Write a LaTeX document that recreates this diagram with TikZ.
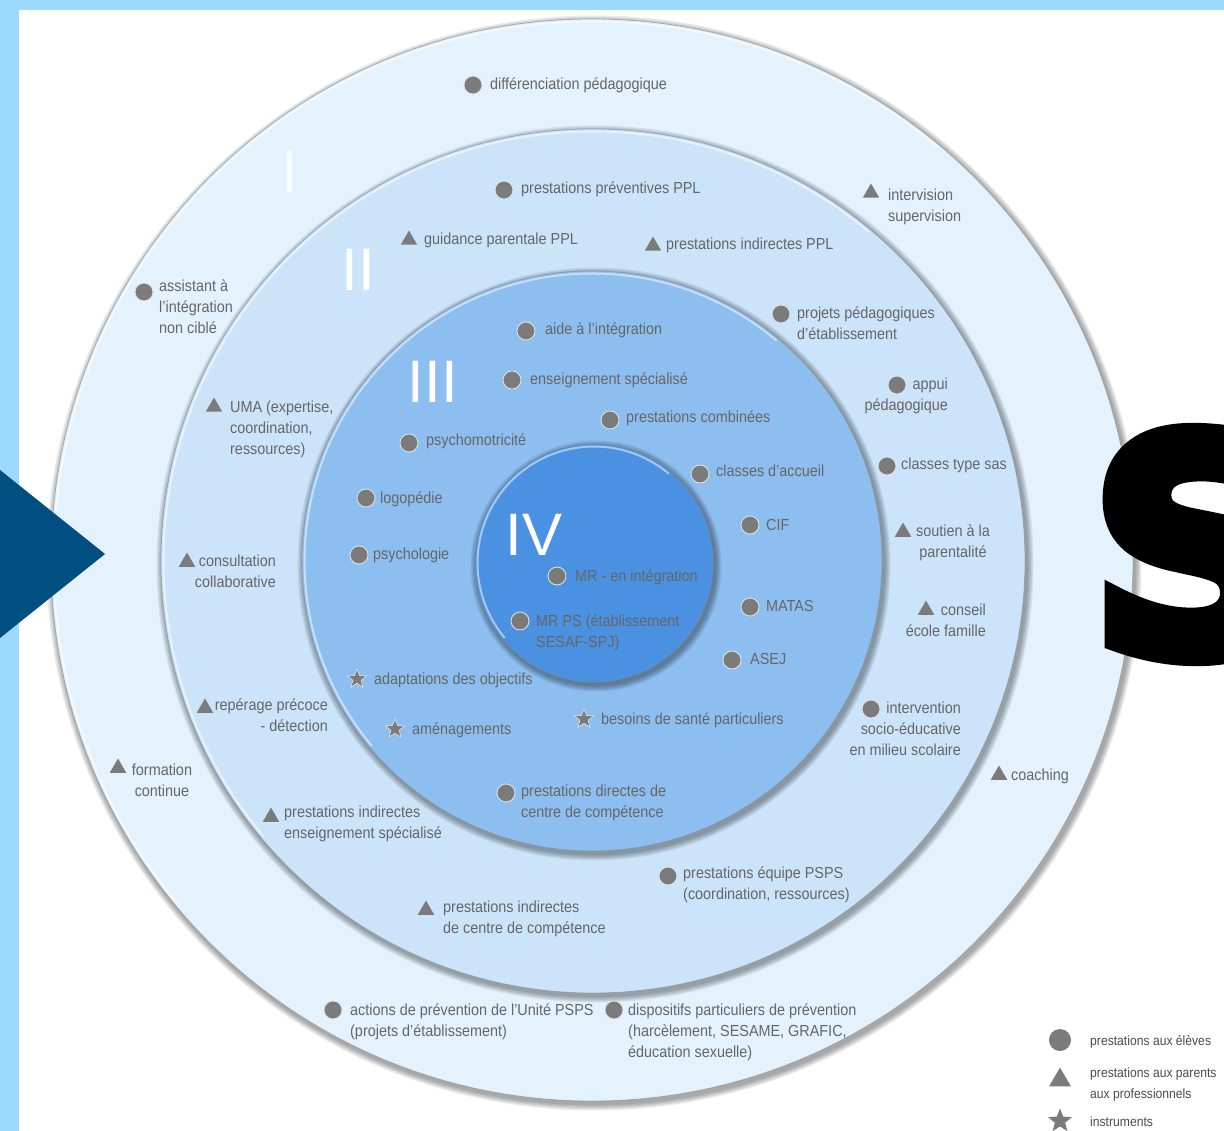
\documentclass[tikz,border=0pt]{standalone}
\usepackage{fontspec}
\setmainfont{Liberation Sans}[FakeStretch=0.9]
\newfontfamily\numfont{Liberation Sans}
\newfontfamily\bigSfont{DejaVu Sans}[BoldFont={DejaVu Sans Bold}, BoldFeatures={FakeBold=6}]
\usetikzlibrary{shapes.geometric}
\definecolor{frameblue}{HTML}{9CD9FC}
\definecolor{arrowblue}{HTML}{004F80}
\definecolor{ringI}{HTML}{E3F2FD}
\definecolor{ringII}{HTML}{CCE4FA}
\definecolor{ringIII}{HTML}{8DBEF0}
\definecolor{ringIV}{HTML}{4A91E2}
\definecolor{mkgray}{HTML}{7B7B7B}
\definecolor{txtgray}{HTML}{666666}
\tikzset{
 dotmk/.style={circle, fill=mkgray, draw=white!80!gray, line width=0.8pt, minimum size=18pt, inner sep=0pt},
 trimk/.style={regular polygon, regular polygon sides=3, fill=mkgray, minimum size=19pt, inner sep=0pt},
 starmk/.style={star, star points=5, star point ratio=2.3, fill=mkgray, draw=white!80!gray, line width=0.6pt, minimum size=20pt, inner sep=0pt},
 lbl/.style={text=txtgray, inner sep=0pt, font=\fontsize{16}{21}\selectfont},
 lgd/.style={text=txtgray!75!black, inner sep=0pt, font=\fontsize{13.5}{21}\selectfont},
 numeral/.style={text=white, inner sep=0pt, font=\numfont\fontsize{60}{60}\selectfont},
}
\newcommand\ringdraw[4]{%
 \foreach \k in {1,2,3,4,5} {\fill[black,opacity=0.08] ({#1+2},{#2+3}) circle[radius={(#3+\k*1.3)*1pt}];}
 \fill[#4] (#1,#2) circle[radius=#3 pt];
 \draw[black!45, opacity=0.6, line width=0.8pt] (#1,#2) circle[radius=#3 pt];
 \draw[white, opacity=0.5, line width=2pt] (#1,#2) ++(50:{(#3-2.5)*1pt}) arc[start angle=50, end angle=220, radius={(#3-2.5)*1pt}];
}
\begin{document}
\begin{tikzpicture}[x=1pt,y=-1pt]
\useasboundingbox (0,0) rectangle (1224,1131);
\fill[white] (0,0) rectangle (1224,1131);
% frame
\fill[frameblue] (0,0) rectangle (1224,10);
\fill[frameblue] (0,0) rectangle (19,1131);
% rings
\ringdraw{592}{560}{541}{ringI}
\ringdraw{593}{561}{432}{ringII}
\ringdraw{592}{561}{290}{ringIII}
\ringdraw{594}{563}{119}{ringIV}
% numerals
\node[numeral, opacity=0.85] (nI) at (290,172) {I};
\node[numeral] (nII) at (358,270) {II};
\node[numeral] (nIII) at (433,382) {III};
\node[numeral] (nIV) at (534,535) {IV};
% ring I
\node[dotmk] (m1) at (473,85) {};
\node[lbl,anchor=base west] (t1) at (490,90) {différenciation pédagogique};
\node[dotmk] (m2) at (144,292) {};
\node[lbl,anchor=base west,align=left] (t2) at (159,334) {assistant à\\l'intégration\\non ciblé};
\node[trimk] (m3) at (871,193) {};
\node[lbl,anchor=base west,align=left] (t3) at (888,222) {intervision\\supervision};
\node[trimk] (m4) at (118,768) {};
\node[lbl,anchor=base,align=center] (t4) at (162,796) {formation\\continue};
\node[trimk] (m5) at (999,775) {};
\node[lbl,anchor=base west] (t5) at (1011,780) {coaching};
\node[dotmk] (m6) at (333,1010) {};
\node[lbl,anchor=base west,align=left] (t6) at (350,1036) {actions de prévention de l'Unité PSPS\\(projets d'établissement)};
\node[dotmk] (m7) at (614,1010) {};
\node[lbl,anchor=base west,align=left] (t7) at (628,1057) {dispositifs particuliers de prévention\\(harcèlement, SESAME, GRAFIC,\\éducation sexuelle)};
% ring II
\node[dotmk] (m8) at (504,190) {};
\node[lbl,anchor=base west] (t8) at (521,194) {prestations préventives PPL};
\node[trimk] (m9) at (409,240) {};
\node[lbl,anchor=base west] (t9) at (424,245) {guidance parentale PPL};
\node[trimk] (m10) at (653,246) {};
\node[lbl,anchor=base west] (t10) at (666,250) {prestations indirectes PPL};
\node[dotmk] (m11) at (781,314) {};
\node[lbl,anchor=base west,align=left] (t11) at (797,340) {projets pédagogiques\\d'établissement};
\node[dotmk] (m12) at (897,385) {};
\node[lbl,anchor=base east,align=right] (t12) at (948,411) {appui\\pédagogique};
\node[dotmk] (m13) at (887,466) {};
\node[lbl,anchor=base west] (t13) at (901,470) {classes type sas};
\node[trimk] (m14) at (903,532) {};
\node[lbl,anchor=base,align=center] (t14) at (953,557) {soutien à la\\parentalité};
\node[trimk] (m15) at (926,610) {};
\node[lbl,anchor=base east,align=right] (t15) at (986,636) {conseil\\école famille};
\node[dotmk] (m16) at (871,709) {};
\node[lbl,anchor=base east,align=right] (t16) at (961,755) {intervention\\socio-éducative\\en milieu scolaire};
\node[dotmk] (m17) at (668,876) {};
\node[lbl,anchor=base west,align=left] (t17) at (683,899) {prestations équipe PSPS\\(coordination, ressources)};
\node[trimk] (m18) at (426,910) {};
\node[lbl,anchor=base west,align=left] (t18) at (443,933) {prestations indirectes\\de centre de compétence};
\node[trimk] (m19) at (271,817) {};
\node[lbl,anchor=base west,align=left] (t19) at (284,838) {prestations indirectes\\enseignement spécialisé};
\node[trimk] (m20) at (205,708) {};
\node[lbl,anchor=base east,align=right] (t20) at (328,731) {repérage précoce\\- détection};
\node[trimk] (m21) at (187,562) {};
\node[lbl,anchor=base east,align=right] (t21) at (276,587) {consultation\\collaborative};
\node[trimk] (m22) at (214,407) {};
\node[lbl,anchor=base west,align=left] (t22) at (230,454) {UMA (expertise,\\coordination,\\ressources)};
% ring III
\node[dotmk] (m23) at (526,331) {};
\node[lbl,anchor=base west] (t23) at (545,335) {aide à l'intégration};
\node[dotmk] (m24) at (512,380) {};
\node[lbl,anchor=base west] (t24) at (530,385) {enseignement spécialisé};
\node[dotmk] (m25) at (610,420) {};
\node[lbl,anchor=base west] (t25) at (626,423) {prestations combinées};
\node[dotmk] (m26) at (409,443) {};
\node[lbl,anchor=base west] (t26) at (426,446) {psychomotricité};
\node[dotmk] (m27) at (366,498) {};
\node[lbl,anchor=base west] (t27) at (380,503) {logopédie};
\node[dotmk] (m28) at (359,555) {};
\node[lbl,anchor=base west] (t28) at (373,559) {psychologie};
\node[dotmk] (m29) at (700,474) {};
\node[lbl,anchor=base west] (t29) at (716,477) {classes d'accueil};
\node[dotmk] (m30) at (750,525) {};
\node[lbl,anchor=base west] (t30) at (766,530) {CIF};
\node[dotmk] (m31) at (750,607) {};
\node[lbl,anchor=base west] (t31) at (766,611) {MATAS};
\node[dotmk] (m32) at (732,660) {};
\node[lbl,anchor=base west] (t32) at (750,664) {ASEJ};
\node[starmk] (m33) at (357,679) {};
\node[lbl,anchor=base west] (t33) at (374,684) {adaptations des objectifs};
\node[starmk] (m34) at (395,729) {};
\node[lbl,anchor=base west] (t34) at (412,734) {aménagements};
\node[starmk] (m35) at (584,719) {};
\node[lbl,anchor=base west] (t35) at (601,724) {besoins de santé particuliers};
\node[dotmk] (m36) at (506,793) {};
\node[lbl,anchor=base west,align=left] (t36) at (521,817) {prestations directes de\\centre de compétence};
% ring IV
\node[dotmk] (m37) at (557,576) {};
\node[lbl,anchor=base west] (t37) at (575,581) {MR - en intégration};
\node[dotmk] (m38) at (520,621) {};
\node[lbl,anchor=base west,align=left] (t38) at (536,647) {MR PS (établissement\\SESAF-SPJ)};
% legend
\node[dotmk, minimum size=22pt, draw=none] (lg1) at (1060,1040) {};
\node[lgd,anchor=base west] (lt1) at (1090,1045) {prestations aux élèves};
\node[trimk, minimum size=25pt] (lg2) at (1060,1080) {};
\node[lgd,anchor=base west,align=left] (lt2) at (1090,1098) {prestations aux parents\\aux professionnels};
\node[starmk, minimum size=25pt, draw=none] (lg3) at (1060,1121) {};
\node[lgd,anchor=base west] (lt3) at (1090,1126) {instruments};
% left arrow
\fill[arrowblue] (0,470) -- (105,554) -- (0,638) -- cycle;
% big S
\begin{scope}
\clip (0,0) rectangle (1224,1131);
\node[anchor=base west, inner sep=0pt, font=\bigSfont\bfseries\fontsize{298}{298}\selectfont] (bigS) at (1090,653) {S};
\end{scope}
\end{tikzpicture}
\end{document}
